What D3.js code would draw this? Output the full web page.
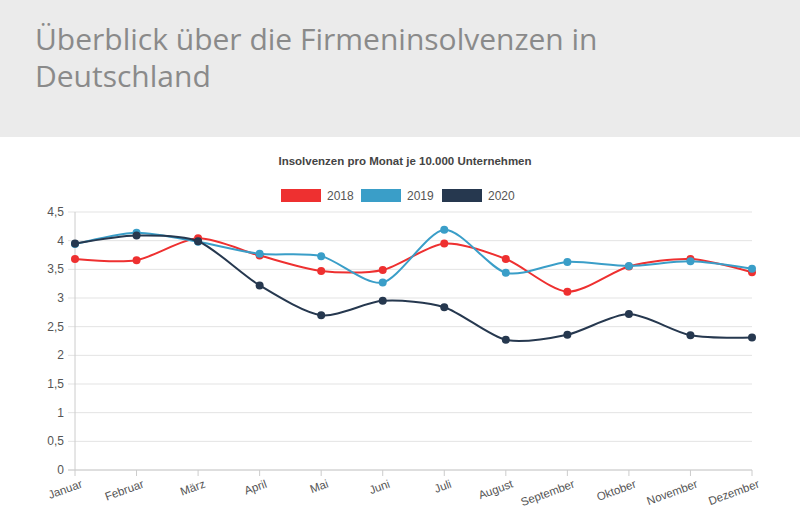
<!DOCTYPE html>
<html><head><meta charset="utf-8">
<script src="https://cdn.jsdelivr.net/npm/d3@7"></script>
<style>
body{margin:0;background:#fff;font-family:"Open Sans",sans-serif;}
#head{height:137px;background:#ebebeb;}
#head h1{margin:0;padding:20px 0 0 35px;font-weight:400;font-size:30px;line-height:37px;color:#8a8a8a;font-family:"Open Sans",sans-serif;}
</style></head><body>
<div id="head"><h1>Überblick über die Firmeninsolvenzen in<br>Deutschland</h1></div>
<svg id="c" width="800" height="394"></svg>
<script>
const months = ["Januar","Februar","März","April","Mai","Juni","Juli","August","September","Oktober","November","Dezember"];
const series2018 = [3.68,3.66,4.04,3.74,3.47,3.49,3.95,3.68,3.11,3.55,3.68,3.45];
const series2019 = [3.94,4.14,3.98,3.77,3.73,3.27,4.19,3.44,3.63,3.56,3.64,3.51];
const series2020 = [3.95,4.09,3.99,3.22,2.70,2.95,2.84,2.27,2.36,2.72,2.35,2.31];
const seriesNames = ["2018","2019","2020"];
const colors = ["#ee3030","#3a9ec8","#26384f"];
const yTicks = [0,0.5,1,1.5,2,2.5,3,3.5,4,4.5];

const svg = d3.select("#c");
const off = 137;
const x = d3.scalePoint().domain(months).range([75,752]);
const y = d3.scaleLinear().domain([0,4.5]).range([470-off,212-off]);

svg.append("text").attr("x",405).attr("y",165-off).attr("text-anchor","middle")
  .attr("font-size",11.5).attr("font-weight","bold").attr("fill","#444")
  .attr("font-family","Liberation Sans, Arial").text("Insolvenzen pro Monat je 10.000 Unternehmen");

// legend
const lx = [281,361,442];
seriesNames.forEach((n,i)=>{
  svg.append("rect").attr("x",lx[i]).attr("y",189-off).attr("width",40).attr("height",13).attr("fill",colors[i]);
  svg.append("text").attr("x",lx[i]+46).attr("y",200-off).attr("font-size",12).attr("fill","#555")
    .attr("font-family","Liberation Sans, Arial").text(n);
});

// grid
yTicks.forEach(t=>{
  svg.append("line").attr("x1",68).attr("x2",752).attr("y1",y(t)).attr("y2",y(t)).attr("stroke","#e3e3e3");
  svg.append("text").attr("x",64).attr("y",y(t)+4).attr("text-anchor","end").attr("font-size",12)
    .attr("fill","#555").attr("font-family","Liberation Sans, Arial").text(String(t).replace(".",","));
});
months.forEach(m=>{
  svg.append("line").attr("x1",x(m)).attr("x2",x(m)).attr("y1",y(0)).attr("y2",y(0)+6).attr("stroke","#ccc");
  svg.append("text").attr("transform",`translate(${x(m)+8},${y(0)+17}) rotate(-20)`)
    .attr("text-anchor","end").attr("font-size",11.5).attr("fill","#555")
    .attr("font-family","Liberation Sans, Arial").text(m);
});
svg.append("line").attr("x1",75).attr("x2",75).attr("y1",y(4.5)).attr("y2",y(0)).attr("stroke","#ccc");
svg.append("line").attr("x1",68).attr("x2",752).attr("y1",y(0)).attr("y2",y(0)).attr("stroke","#ccc");

const line = d3.line().x((d,i)=>x(months[i])).y(d=>y(d)).curve(d3.curveCardinal.tension(0.2));
[series2018,series2019,series2020].forEach((s,i)=>{
  svg.append("path").attr("d",line(s)).attr("fill","none").attr("stroke",colors[i]).attr("stroke-width",2);
  svg.selectAll(null).data(s).join("circle").attr("cx",(d,j)=>x(months[j])).attr("cy",d=>y(d))
    .attr("r",4).attr("fill",colors[i]);
});
</script></body></html>
